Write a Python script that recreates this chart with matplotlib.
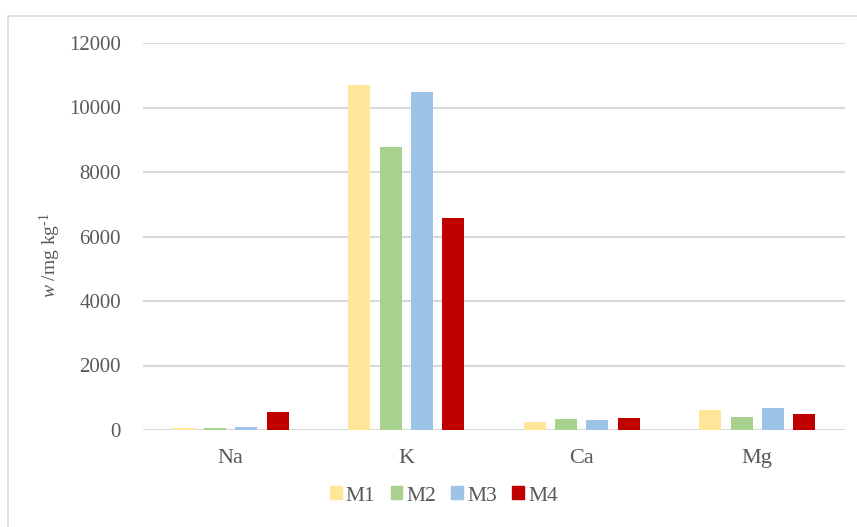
import matplotlib.pyplot as plt
import matplotlib.patches as mpatches
import numpy as np

elementos = ["Na", "K", "Ca", "Mg"]
muestras = ["M1", "M2", "M3", "M4"]
valores = {
    "M1": [50, 10700, 250, 630],
    "M2": [50, 8780, 350, 400],
    "M3": [85, 10480, 320, 680],
    "M4": [570, 6580, 360, 490],
}
colores = {"M1": "#FFE699", "M2": "#A9D18E", "M3": "#9DC3E6", "M4": "#C00000"}
yticks = [0, 2000, 4000, 6000, 8000, 10000, 12000]

plt.rcParams['font.family'] = ['Liberation Serif', 'DejaVu Serif']
plt.rcParams['mathtext.fontset'] = 'custom'
plt.rcParams['mathtext.rm'] = 'Liberation Serif'
plt.rcParams['mathtext.it'] = 'Liberation Serif:italic'

fig = plt.figure(figsize=(8.57, 5.27), dpi=100)
# marco gris del grafico
fig.patches.append(mpatches.Rectangle((8 / 857, -0.05), 1.0, 1 - 16 / 527 + 0.05,
                                      transform=fig.transFigure, fill=False,
                                      edgecolor="#d9d9d9", linewidth=1.2))
ax = fig.add_axes([143 / 857, 1 - 430 / 527, (845 - 143) / 857, (430 - 43) / 527])

x = np.arange(len(elementos))
paso = 0.178
ancho = 0.125
for i, m in enumerate(muestras):
    ax.bar(x + (i - 1.5) * paso, valores[m], width=ancho, color=colores[m],
           label=m, zorder=3)

ax.set_xlim(-0.5, 3.5)
ax.set_ylim(0, 12000)
ax.set_yticks(yticks)
ax.set_xticks(x)
ax.set_xticklabels(elementos)
ax.tick_params(axis="both", length=0, labelsize=15, colors="#595959")
ax.tick_params(axis="x", pad=14, labelsize=16)
ax.tick_params(axis="y", pad=16)
ax.grid(axis="y", color="#d9d9d9", linewidth=1.5, zorder=0)
ax.set_axisbelow(True)
for s in ax.spines.values():
    s.set_visible(False)

fig.text(50 / 857, 1 - 255 / 527, "$\\mathit{w}$ /mg kg$^{\\mathregular{\u20101}}$",
         rotation=90, ha="center", va="center", fontsize=14, color="#595959")

handles = [mpatches.Patch(color=colores[m], label=m) for m in muestras]
leg = fig.legend(handles=handles, loc="center", bbox_to_anchor=(444 / 857, 1 - 496 / 527),
                 ncol=4, frameon=False, fontsize=15.5, handlelength=0.55, handleheight=0.55,
                 handletextpad=0.2, columnspacing=0.7)
for t in leg.get_texts():
    t.set_color("#595959")

fig.savefig("out.png", dpi=100)
